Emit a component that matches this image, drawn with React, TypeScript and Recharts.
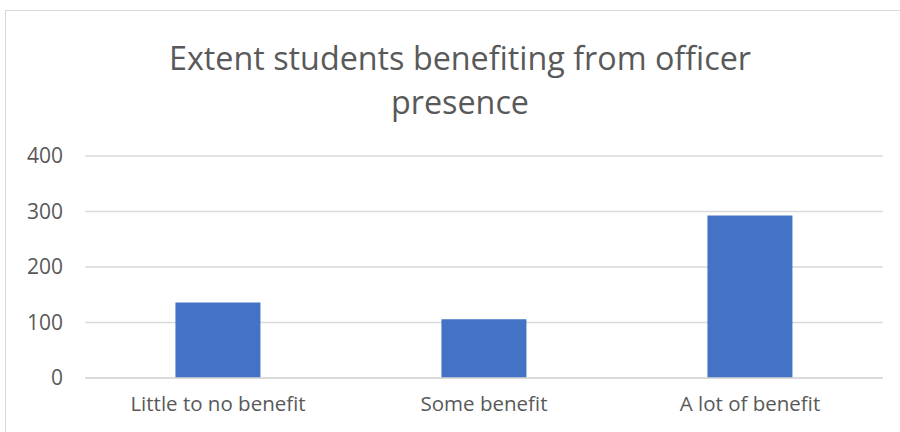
import React from 'react';
import { BarChart, Bar, XAxis, YAxis, CartesianGrid } from 'recharts';

const categories = ['Little to no benefit', 'Some benefit', 'A lot of benefit'];
const counts = [136, 106, 293];
const yTicks = [0, 100, 200, 300, 400];

const data = categories.map((name, i) => ({ name, value: counts[i] }));

const FONT = '"Open Sans", "Noto Sans", sans-serif';
const TEXT = '#595959';

const App: React.FC = () => {
  return (
    <div style={{ position: 'fixed', left: 0, top: 0, width: 900, height: 432, background: '#fff', overflow: 'hidden', fontFamily: FONT }}>
      {/* chart area border, runs off the right and bottom edges */}
      <div style={{ position: 'absolute', left: 5, top: 10, width: 940, height: 460, border: '1px solid #d9d9d9' }} />
      <div style={{ position: 'absolute', left: 0, top: 0 }}>
        <BarChart
          width={900}
          height={432}
          data={data}
          margin={{ top: 156, right: 17, bottom: 0, left: 0 }}
          barCategoryGap="34%"
        >
          <CartesianGrid vertical={false} stroke="#d9d9d9" strokeWidth={1.5} />
          <XAxis
            dataKey="name"
            axisLine={{ stroke: '#d9d9d9', strokeWidth: 1.5 }}
            tickLine={false}
            height={54}
            tick={{ fill: TEXT, fontSize: 20.5, fontFamily: FONT }}
            tickMargin={12}
            interval={0}
          />
          <YAxis
            width={85}
            domain={[0, 400]}
            ticks={yTicks}
            axisLine={false}
            tickLine={false}
            tick={{ fill: TEXT, fontSize: 21, fontFamily: FONT }}
            tickMargin={16}
          />
          <Bar dataKey="value" fill="#4472c4" isAnimationActive={false} />
        </BarChart>
      </div>
      <div style={{ position: 'absolute', left: 0, width: 920, top: 35, textAlign: 'center', color: TEXT, fontSize: 32.3, lineHeight: '44px' }}>
        Extent students benefiting from officer
        <br />
        presence
      </div>
    </div>
  );
};

export default App;
